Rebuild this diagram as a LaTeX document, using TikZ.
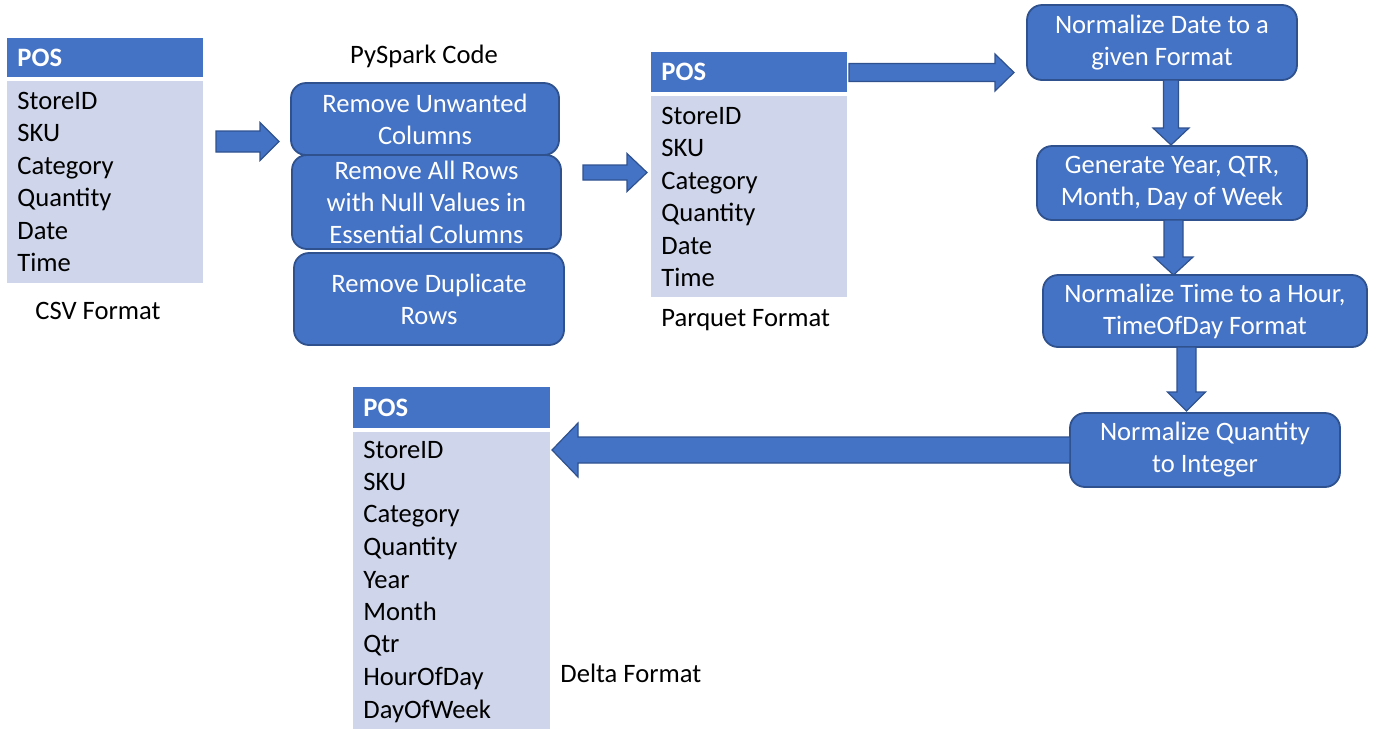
\documentclass[tikz,border=0pt]{standalone}
\usepackage{fontspec}
\setmainfont{Carlito}
\definecolor{hdr}{HTML}{4472C4}
\definecolor{bodyc}{HTML}{CFD5EA}
\definecolor{edgec}{HTML}{2F528F}
\newcommand{\harrow}[6]{% x1 x2 y bodyhalf headhalf headlen(signed)
  \filldraw[blockarr] (#1,#3-#4) -- (#2-#6,#3-#4) -- (#2-#6,#3-#5) -- (#2,#3) -- (#2-#6,#3+#5) -- (#2-#6,#3+#4) -- (#1,#3+#4) -- cycle;}
\newcommand{\varrow}[6]{% x y1 y2 bodyhalf headhalf headlen
  \filldraw[blockarr] (#1-#4,#2) -- (#1-#4,#3-#6) -- (#1-#5,#3-#6) -- (#1,#3) -- (#1+#5,#3-#6) -- (#1+#4,#3-#6) -- (#1+#4,#2) -- cycle;}
\begin{document}
\begin{tikzpicture}[x=0.5pt,y=-0.5pt,
  txt/.style={font=\fontsize{13.3}{16.2}\selectfont, inner sep=0pt},
  hdrbox/.style={fill=hdr, draw=none, inner sep=0pt},
  bodybox/.style={fill=bodyc, draw=none, inner sep=0pt},
  hdrtxt/.style={txt, text=white, font=\fontsize{13.3}{16.2}\selectfont\bfseries, anchor=west},
  listtxt/.style={txt, align=left, anchor=west, font=\fontsize{13.3}{16.25}\selectfont},
  procbox/.style={fill=hdr, draw=edgec, line width=0.9pt, rounded corners=7.5pt, text=white, align=center, inner sep=0pt, font=\fontsize{13.3}{16}\selectfont},
  blockarr/.style={fill=hdr, draw=edgec, line width=0.6pt},
  lbl/.style={txt}]
\useasboundingbox (0,0) rectangle (1376,729);
% ---- CSV table
\node[hdrbox, minimum width=98pt, minimum height=19.5pt] (h1) at (105,57.5) {};
\node[bodybox, minimum width=98pt, minimum height=101pt] (b1) at (105,182) {};
\node[hdrtxt] (h1t) at (17,58) {POS};
\node[listtxt] (l1) at (17,182) {StoreID\\SKU\\Category\\Quantity\\Date\\Time};
\node[lbl] (csv) at (98,311) {CSV Format};
% ---- PySpark boxes
\node[lbl] (pys) at (424,56) {PySpark Code};
\node[procbox, minimum width=134pt, minimum height=36pt] (p1) at (425,119) {Remove Unwanted\\Columns};
\node[procbox, minimum width=134.5pt, minimum height=47pt] (p2) at (426.5,202) {Remove All Rows\\with Null Values in\\Essential Columns};
\node[procbox, minimum width=135pt, minimum height=46pt] (p3) at (429,299) {Remove Duplicate\\Rows};
% ---- Parquet table
\node[hdrbox, minimum width=98pt, minimum height=20pt] (h2) at (749,72) {};
\node[bodybox, minimum width=98pt, minimum height=100.5pt] (b2) at (749,196.5) {};
\node[hdrtxt] (h2t) at (661,72) {POS};
\node[listtxt] (l2) at (661,197) {StoreID\\SKU\\Category\\Quantity\\Date\\Time};
\node[lbl, anchor=west] (parq) at (661,320) {Parquet Format};
% ---- Right column
\node[procbox, minimum width=135pt, minimum height=37.5pt] (r1) at (1162,42.5) {Normalize Date to a\\given Format};
\node[procbox, minimum width=135pt, minimum height=37pt] (r2) at (1172,183) {Generate Year, QTR,\\Month, Day of Week};
\node[procbox, minimum width=162pt, minimum height=36pt] (r3) at (1205,311) {Normalize Time to a Hour,\\TimeOfDay Format};
\node[procbox, minimum width=135pt, minimum height=37pt] (r4) at (1205,450) {Normalize Quantity\\to Integer};
% ---- Delta table
\node[hdrbox, minimum width=98.5pt, minimum height=20.5pt] (h3) at (451.5,407.5) {};
\node[bodybox, minimum width=98.5pt, minimum height=148.5pt] (b3) at (451.5,580.5) {};
\node[hdrtxt] (h3t) at (363,408) {POS};
\node[listtxt] (l3) at (363,581.5) {StoreID\\SKU\\Category\\Quantity\\Year\\Month\\Qtr\\HourOfDay\\DayOfWeek};
\node[lbl, anchor=west] (delta) at (560,673) {Delta Format};
% ---- Arrows
\harrow{216}{279}{141.5}{10.5}{19}{19}
\harrow{583}{647}{172.5}{7.5}{19}{20}
\harrow{849}{1014}{72.5}{9}{18.5}{19}
\varrow{1171}{80}{145}{7.5}{18}{17}
\varrow{1173.5}{220}{275}{9.5}{19.5}{18}
\varrow{1186.5}{347}{411}{9.5}{19}{19}
\harrow{1070}{552}{450}{13}{27}{-26}
\end{tikzpicture}
\end{document}
